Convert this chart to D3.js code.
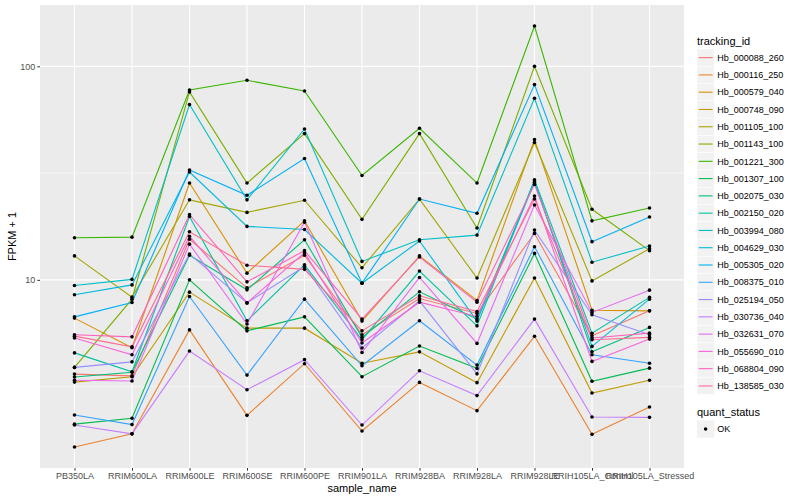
<!DOCTYPE html>
<html>
<head>
<meta charset="utf-8">
<script src="https://cdn.jsdelivr.net/npm/d3@7"></script>
<style>
  body { margin: 0; background: #fff; }
  text { font-family: "Liberation Sans", Arial, sans-serif; }
</style>
</head>
<body>
<div id="chart"></div>
<script>
// sample names on the x axis
const samples = ["PB350LA", "RRIM600LA", "RRIM600LE", "RRIM600SE", "RRIM600PE", "RRIM901LA",
    "RRIM928BA", "RRIM928LA", "RRIM928LE", "RRIH105LA_Control", "RRIH105LA_Stressed"];

const trackingIds = ["Hb_000088_260", "Hb_000116_250", "Hb_000579_040", "Hb_000748_090", "Hb_001105_100",
    "Hb_001143_100", "Hb_001221_300", "Hb_001307_100", "Hb_002075_030", "Hb_002150_020",
    "Hb_003994_080", "Hb_004629_030", "Hb_005305_020", "Hb_008375_010", "Hb_025194_050",
    "Hb_030736_040", "Hb_032631_070", "Hb_055690_010", "Hb_068804_090", "Hb_138585_030"];

// ggplot default hue palette, 20 levels
const seriesColors = ["#F8766D", "#EA8331", "#D89000", "#C09B00", "#A3A500", "#7CAE00", "#39B600", "#00BB4E",
    "#00BF7D", "#00C1A3", "#00BFC4", "#00BAE0", "#00B0F6", "#35A2FF", "#9590FF", "#C77CFF",
    "#E76BF3", "#FA62DB", "#FF62BC", "#FF6C91"];

// FPKM + 1, one row per tracking id, one column per sample
const fpkmPlusOne = [
    [3.62, 3.55, 15.5, 9.17, 13.05, 5.53, 8.18, 6.96, 16.5, 5.47, 7.16],   // 000088
    [1.65, 1.90, 5.83, 2.32, 4.05, 1.96, 3.31, 2.44, 5.44, 1.89, 2.54],    // 000116
    [6.62, 4.81, 28.4, 10.75, 18.9, 6.41, 12.95, 8.01, 45.4, 7.21, 7.16],  // 000579
    [3.32, 3.52, 8.76, 5.94, 5.94, 4.07, 4.60, 3.30, 10.2, 2.95, 3.39],    // 000748
    [12.95, 8.30, 23.7, 20.7, 23.6, 11.4, 23.9, 10.2, 44.0, 9.89, 14.0],   // 001105
    [3.89, 8.12, 75.9, 28.4, 48.4, 19.2, 48.4, 17.5, 100, 21.4, 13.7],     // 001143
    [15.75, 15.85, 77.5, 86.0, 76.7, 30.8, 51.3, 28.4, 154.4, 18.9, 21.7], // 001221
    [2.11, 2.25, 10.0, 5.77, 6.71, 3.52, 4.90, 3.85, 13.3, 3.35, 3.86],    // 001307
    [3.51, 3.69, 13.05, 8.98, 15.4, 5.38, 8.79, 6.55, 29.0, 4.60, 5.99],   // 002075
    [4.55, 3.71, 19.8, 6.43, 11.75, 5.24, 11.0, 6.09, 29.4, 5.62, 8.28],   // 002150
    [9.41, 10.05, 66.2, 23.7, 50.9, 12.2, 15.4, 16.2, 70.8, 12.1, 14.4],   // 003994
    [8.51, 9.47, 32.0, 17.8, 17.2, 9.65, 15.2, 6.41, 28.6, 4.88, 8.12],    // 004629
    [6.71, 7.84, 32.7, 24.9, 37.0, 9.65, 23.9, 20.5, 82.1, 15.1, 19.7],    // 005305
    [2.33, 2.10, 8.36, 3.58, 8.12, 3.96, 6.43, 3.99, 14.3, 4.46, 4.07],    // 008375
    [3.89, 4.13, 13.2, 7.80, 11.55, 4.80, 7.98, 3.63, 17.1, 6.86, 5.53],   // 025194
    [2.09, 1.90, 4.64, 3.06, 4.23, 2.09, 3.75, 2.87, 6.55, 2.28, 2.27],    // 030736
    [3.39, 3.36, 14.7, 6.21, 18.6, 4.57, 10.26, 5.04, 22.4, 7.04, 8.95],   // 032631
    [5.34, 4.46, 16.0, 7.80, 13.4, 5.06, 7.86, 6.74, 24.7, 4.15, 5.28],    // 055690
    [5.53, 5.41, 20.2, 9.79, 13.7, 6.55, 12.8, 7.86, 28.0, 5.34, 5.63],    // 068804
    [5.45, 4.86, 16.8, 11.7, 11.2, 5.77, 8.42, 7.11, 23.9, 5.24, 5.38]     // 138585
];

const yBreaks = [10, 100];
const yMinorBreaks = [Math.sqrt(10), Math.sqrt(1000)];

const width = 800, height = 500;
const panel = { left: 40, top: 5, right: 684, bottom: 468 };

const svg = d3.select("#chart")
    .append("svg")
    .attr("width", width)
    .attr("height", height);

const series = trackingIds.map((id, i) => ({
    id: id,
    color: seriesColors[i],
    points: samples.map((s, j) => ({ sample: s, value: fpkmPlusOne[i][j] }))
}));

// log scale with ggplot's 5% expansion
const allLog = fpkmPlusOne.flat().map(v => Math.log10(v));
const [lo, hi] = d3.extent(allLog);
const pad = (hi - lo) * 0.05;

const x = d3.scalePoint()
    .domain(samples)
    .range([panel.left, panel.right])
    .padding(0.6);

const y = d3.scaleLog()
    .domain([Math.pow(10, lo - pad), Math.pow(10, hi + pad)])
    .range([panel.bottom, panel.top]);

// panel background
svg.append("rect")
    .attr("x", panel.left)
    .attr("y", panel.top)
    .attr("width", panel.right - panel.left)
    .attr("height", panel.bottom - panel.top)
    .attr("fill", "#EBEBEB");

// grid
const grid = svg.append("g");
grid.selectAll(".minor")
    .data(yMinorBreaks)
    .enter()
    .append("line")
    .attr("x1", panel.left).attr("x2", panel.right)
    .attr("y1", d => y(d)).attr("y2", d => y(d))
    .attr("stroke", "#fff").attr("stroke-width", 0.55);

grid.selectAll(".major-y")
    .data(yBreaks)
    .enter()
    .append("line")
    .attr("x1", panel.left).attr("x2", panel.right)
    .attr("y1", d => y(d)).attr("y2", d => y(d))
    .attr("stroke", "#fff").attr("stroke-width", 1.1);

grid.selectAll(".major-x")
    .data(samples)
    .enter()
    .append("line")
    .attr("x1", d => x(d)).attr("x2", d => x(d))
    .attr("y1", panel.top).attr("y2", panel.bottom)
    .attr("stroke", "#fff").attr("stroke-width", 1.1);

// lines
const line = d3.line()
    .x(d => x(d.sample))
    .y(d => y(d.value));

svg.append("g")
    .selectAll("path")
    .data(series)
    .enter()
    .append("path")
    .attr("d", d => line(d.points))
    .attr("fill", "none")
    .attr("stroke", d => d.color)
    .attr("stroke-width", 1.1);

// points
svg.append("g")
    .selectAll("circle")
    .data(series.flatMap(d => d.points))
    .enter()
    .append("circle")
    .attr("cx", d => x(d.sample))
    .attr("cy", d => y(d.value))
    .attr("r", 1.8)
    .attr("fill", "#000");

// y axis
const yAxis = svg.append("g")
    .attr("transform", `translate(${panel.left},0)`)
    .call(d3.axisLeft(y).tickValues(yBreaks).tickFormat(d3.format("d")).tickSize(2.7).tickPadding(2));
yAxis.select(".domain").remove();
yAxis.selectAll("line").attr("stroke", "#333");
yAxis.selectAll("text").attr("fill", "#4D4D4D").attr("font-size", "9px")
    .attr("font-family", "Liberation Sans, Arial, sans-serif");

// x axis
const xAxis = svg.append("g")
    .attr("transform", `translate(0,${panel.bottom})`)
    .call(d3.axisBottom(x).tickSize(2.7).tickPadding(2));
xAxis.select(".domain").remove();
xAxis.selectAll("line").attr("stroke", "#333");
xAxis.selectAll("text").attr("fill", "#4D4D4D").attr("font-size", "9px")
    .attr("font-family", "Liberation Sans, Arial, sans-serif");

// axis titles
svg.append("text")
    .attr("x", (panel.left + panel.right) / 2)
    .attr("y", 492)
    .attr("text-anchor", "middle")
    .attr("font-size", "11px")
    .text("sample_name");

svg.append("text")
    .attr("transform", `translate(16,${(panel.top + panel.bottom) / 2}) rotate(-90)`)
    .attr("text-anchor", "middle")
    .attr("font-size", "11px")
    .text("FPKM + 1");

// legend: tracking_id
const keySize = 17.28;
const legendX = 697;
const legend = svg.append("g");

legend.append("text")
    .attr("x", legendX)
    .attr("y", 44.5)
    .attr("font-size", "11px")
    .text("tracking_id");

const keys = legend.selectAll(".key")
    .data(series)
    .enter()
    .append("g")
    .attr("transform", (d, i) => `translate(${legendX},${49 + i * keySize})`);

keys.append("rect")
    .attr("width", keySize)
    .attr("height", keySize)
    .attr("fill", "#F2F2F2")
    .attr("stroke", "#fff")
    .attr("stroke-width", 0.5);

keys.append("line")
    .attr("x1", 1.7).attr("x2", keySize - 1.7)
    .attr("y1", keySize / 2).attr("y2", keySize / 2)
    .attr("stroke", d => d.color)
    .attr("stroke-width", 1.1);

keys.append("text")
    .attr("x", keySize + 3)
    .attr("y", keySize / 2 + 3.2)
    .attr("font-size", "9px")
    .text(d => d.id);

// legend: quant_status
legend.append("text")
    .attr("x", legendX)
    .attr("y", 416)
    .attr("font-size", "11px")
    .text("quant_status");

const okKey = legend.append("g")
    .attr("transform", `translate(${legendX},420.4)`);

okKey.append("rect")
    .attr("width", keySize)
    .attr("height", keySize)
    .attr("fill", "#F2F2F2");

okKey.append("circle")
    .attr("cx", keySize / 2)
    .attr("cy", keySize / 2)
    .attr("r", 1.8)
    .attr("fill", "#000");

okKey.append("text")
    .attr("x", keySize + 3)
    .attr("y", keySize / 2 + 3.2)
    .attr("font-size", "9px")
    .text("OK");
</script>
</body>
</html>
